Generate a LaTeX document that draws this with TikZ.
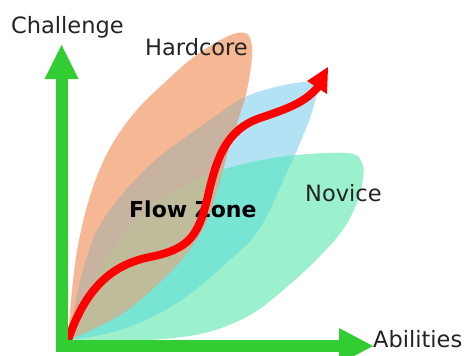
\documentclass[tikz,border=0pt]{standalone}
\usepackage{fontspec}
\setmainfont{DejaVu Sans}
\definecolor{cBlue}{RGB}{180,226,245}
\definecolor{cMint}{RGB}{155,240,205}
\definecolor{cOrange}{RGB}{245,183,148}
\definecolor{cTeal}{RGB}{120,228,212}
\definecolor{cTan}{RGB}{200,178,160}
\definecolor{cKhaki}{RGB}{190,188,155}
\definecolor{cAxis}{RGB}{50,205,50}
\definecolor{cText}{RGB}{35,35,35}
\def\pathBlue{plot[smooth,tension=0.6] coordinates {(68,340) (72,320) (83,270) (103,220) (150,165) (210,120) (245,97) (280,86) (308,82) (317,88) (312,112) (300,143) (287,172) (260,228) (232,258) (177,303) (120,330) (68,340)} -- cycle}
\def\pathMint{plot[smooth,tension=0.6] coordinates {(68,340) (75,322) (100,268) (132,224) (165,196) (215,172) (280,157) (347,153) (362,163) (363,178) (358,200) (344,228) (320,256) (289,285) (250,315) (200,334) (130,341) (68,340)} -- cycle}
\def\pathOrange{plot[smooth,tension=0.6] coordinates {(68,340) (72,290) (79,240) (92,190) (110,148) (135,112) (162,85) (190,60) (215,43) (237,33) (249,36) (252,55) (247,90) (238,120) (228,152) (218,188) (206,222) (188,252) (160,282) (120,315) (68,340)} -- cycle}
\tikzset{
  lbl/.style={inner sep=0pt, anchor=base west, text=cText, font=\fontsize{22.5}{27}\selectfont},
  axisline/.style={cAxis, line width=12pt, line join=miter},
  flowline/.style={red, line width=8pt, line cap=round}
}
\begin{document}
\begin{tikzpicture}[x=1pt,y=-1pt]
\useasboundingbox (0,0) rectangle (464,356);
% zones
\fill[cBlue] \pathBlue;
\fill[cMint] \pathMint;
\fill[cOrange] \pathOrange;
\begin{scope}
  \clip \pathBlue;
  \fill[cTeal] \pathMint;
\end{scope}
\begin{scope}
  \clip \pathBlue;
  \fill[cTan] \pathOrange;
\end{scope}
\begin{scope}
  \clip \pathBlue;
  \clip \pathMint;
  \fill[cKhaki] \pathOrange;
\end{scope}
% labels
\node[lbl] (challenge) at (11,34) {Challenge};
\node[lbl] (hardcore) at (145,55) {Hardcore};
\node[lbl] (novice) at (305,201) {Novice};
\node[lbl] (abilities) at (373,347) {Abilities};
\node[lbl, text=black, font=\fontsize{22}{26}\selectfont\bfseries] (flow) at (129,217) {Flow Zone};
% flow curve
\coordinate (fstart) at (68,340);
\coordinate (fa) at (150,257);
\coordinate (fb) at (207,200);
\coordinate (fc) at (260,118);
\coordinate (fend) at (318,87);
\draw[flowline] (fstart) .. controls (85,290) and (110,265) .. (fa)
  .. controls (190,249) and (198,235) .. (fb)
  .. controls (216,160) and (225,130) .. (fc)
  .. controls (290,108) and (305,102) .. (fend);
\fill[red] (328,67) -- (307,81) -- (327,94) -- cycle;
% axes
\coordinate (ytop) at (62,78);
\coordinate (origin) at (62,346);
\coordinate (xend) at (340,346);
\draw[axisline] (ytop) -- (origin) -- (xend);
\fill[cAxis] (61.5,45) -- (78.5,79) -- (44.5,79) -- cycle;
\fill[cAxis] (373,346) -- (339,328) -- (339,364) -- cycle;
\end{tikzpicture}
\end{document}
